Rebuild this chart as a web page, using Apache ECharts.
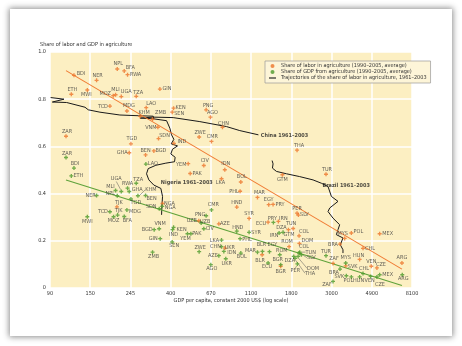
<!DOCTYPE html>
<html><head><meta charset="utf-8">
<script src="https://cdn.jsdelivr.net/npm/echarts@6/dist/echarts.min.js"></script>
<style>
html,body{margin:0;padding:0;background:#fff;}
#card{position:absolute;left:10px;top:9px;width:442px;height:327px;background:#fff;box-shadow:0 0 6px 1px rgba(0,0,0,0.45);}
#c{position:absolute;left:0;top:0;width:462px;height:346px;}
</style>
</head><body>
<div id="card"></div>
<div id="c"></div>
<script>
// ---- axis ticks ----
const xTickLabels = ['90','150','245','400','670','1100','1800','3000','4900','8100']; // GDP per capita at ln = 4.5 ... 9.0
const yTickLabels = ['0','0.2','0.4','0.6','0.8','1.0'];

// ---- Share of labor in agriculture (x = ln GDP per capita) ----
const laborCodes = ['BDI','NER','NPL','BFA','RWA','ETH','MWI','MOZ','MLI','UGA','TZA','GIN','TCD','MDG','LAO','KHM','ZMB','VNM','SDN','IND','TGD','GHA','BEN','BGD','KEN','SEN','PNG','AGO','CHN','ZWE','CMR','THA','YEM','CIV','PAK','IDN','LKA','BOL','PHL','GTM','TUR','MAR','EGY','PRY','NGA','TJK','HND','SYR','UZB','AZE','ECU','IRN','TUN','DZA','PER','SLV','COL','DOM','ROM','BLR','BGR','UKR','MYS','POL','MEX','BRA','CHL','HUN','ZAF','SVK','VEN','CZE','ARG','ZAR'];
const laborLnGdp = [4.798,5.079,5.336,5.423,5.464,4.765,4.964,5.286,5.315,5.386,5.572,5.866,5.245,5.456,5.696,5.620,5.775,5.841,5.849,6.040,5.506,5.485,5.688,5.791,6.036,6.019,6.441,6.495,6.644,6.354,6.507,7.571,6.218,6.412,6.243,6.673,6.632,6.872,6.863,7.389,7.931,7.079,7.219,7.273,5.899,5.332,6.822,6.975,6.350,6.599,7.211,7.339,7.522,7.464,7.571,7.588,7.596,7.600,7.472,7.137,7.368,6.673,8.163,8.246,8.598,8.105,8.391,8.349,8.018,8.176,8.494,8.564,8.875,4.699];
const laborShare = [0.901,0.880,0.928,0.920,0.904,0.821,0.839,0.815,0.819,0.811,0.812,0.843,0.771,0.750,0.764,0.727,0.715,0.681,0.633,0.613,0.611,0.573,0.564,0.581,0.762,0.745,0.755,0.724,0.681,0.640,0.621,0.584,0.527,0.519,0.485,0.501,0.463,0.449,0.410,0.480,0.482,0.384,0.353,0.354,0.358,0.344,0.343,0.295,0.285,0.272,0.279,0.282,0.252,0.247,0.317,0.309,0.221,0.189,0.175,0.141,0.092,0.169,0.210,0.233,0.230,0.186,0.168,0.121,0.104,0.094,0.092,0.085,0.106,0.643];

// ---- Share of GDP from agriculture ----
const gdpCodes = ['ZAR','BDI','ETH','NER','MWI','UGA','MLI','NPL','RWA','TZA','GHA','KHM','BEN','LAO','TJK','TGD','SDN','NGA','TCD','MDG','MOZ','BFA','VNM','BGD','GIN','ZMB','KEN','IND','SEN','YEM','PAK','PNG','UZB','CIV','CMR','AZE','HND','SYR','LKA','PHL','ZWE','CHN','IDN','UKR','BOL','AGO','MAR','BLR','EGY','ECU','ROM','BGR','DZA','PER','THA','DOM','COL','TUN','SLV','IRN','GTM','PRY','TUR','BRA','ZAF','MYS','SVK','POL','HUN','CHL','VEN','CZE','MEX','ARG'];
const gdpLnGdp = [4.699,4.798,4.765,5.079,4.964,5.386,5.315,5.336,5.464,5.572,5.485,5.593,5.688,5.692,5.340,5.506,5.858,5.895,5.245,5.456,5.290,5.423,5.857,5.795,5.870,5.775,6.036,6.023,6.019,6.209,6.251,6.441,6.379,6.412,6.507,6.599,6.822,6.975,6.632,6.863,6.354,6.632,6.661,6.685,6.872,6.499,7.079,7.141,7.228,7.211,7.356,7.368,7.530,7.575,7.546,7.584,7.596,7.604,7.625,7.348,7.397,7.277,7.931,8.105,8.018,8.176,8.184,8.246,8.349,8.391,8.486,8.564,8.598,8.879];
const gdpShare = [0.553,0.508,0.475,0.392,0.302,0.409,0.413,0.391,0.423,0.444,0.409,0.391,0.392,0.525,0.309,0.377,0.336,0.346,0.323,0.331,0.302,0.303,0.251,0.247,0.209,0.152,0.257,0.247,0.195,0.230,0.230,0.306,0.275,0.251,0.331,0.137,0.241,0.236,0.203,0.209,0.154,0.175,0.155,0.124,0.148,0.099,0.152,0.155,0.154,0.106,0.141,0.099,0.134,0.102,0.126,0.134,0.148,0.152,0.141,0.233,0.236,0.278,0.137,0.080,0.028,0.106,0.052,0.047,0.047,0.061,0.049,0.047,0.056,0.056];

// ---- Fitted lines (endpoints) ----
const laborFitLn = [4.699, 8.875];
const laborFitShare = [0.921, 0.080];
const gdpFitLn = [4.699, 8.875];
const gdpFitShare = [0.458, 0.011];

// ---- Trajectories of labor share, 1961-2003 ----
const chinaLn = [4.508,4.674,4.529,4.707,4.935,4.976,5.121,5.369,5.600,5.783,5.790,5.620,5.783,6.031,6.363,6.694,6.859,7.091];
const chinaShare = [0.807,0.800,0.788,0.786,0.766,0.755,0.745,0.733,0.730,0.728,0.717,0.720,0.724,0.722,0.705,0.684,0.667,0.649];
const nigeriaLn = [5.783,5.949,5.990,6.011,6.040,6.007,6.085,6.023,6.002,6.056,6.048,5.940,5.816,5.721,5.700,5.729,5.791,5.878,5.899,5.891,5.887];
const nigeriaShare = [0.717,0.709,0.677,0.649,0.630,0.611,0.602,0.588,0.568,0.554,0.535,0.529,0.520,0.506,0.484,0.458,0.436,0.422,0.388,0.346,0.310];
const brazilLn = [7.261,7.273,7.265,7.315,7.439,7.604,7.770,7.873,7.956,7.998,8.080,7.977,7.956,8.018,8.101,8.080,8.060,8.142,8.109,8.142,8.142];
const brazilShare = [0.540,0.526,0.508,0.494,0.484,0.472,0.458,0.444,0.430,0.388,0.367,0.339,0.324,0.296,0.268,0.247,0.226,0.212,0.183,0.162,0.148];
const trajNames = ['China 1961–2003','Nigeria 1961–2003','Brazil 1961–2003'];
const trajLabelLn = [7.12, 5.878, 7.886];
const trajLabelShare = [0.647, 0.447, 0.433];

// ---- label placement (layout only) ----
const laborOff = {BDI:[7,-2],NER:[1,-5],NPL:[1,-5],BFA:[6,-3],RWA:[8,0],ETH:[1,-5],MWI:[-1,5],MOZ:[-8,-2],MLI:[0,-5],UGA:[5,-5],TZA:[2,-4],GIN:[7,0],TCD:[-7,1],MDG:[2,-5],LAO:[5,-4],KHM:[4,-4],ZMB:[8,-7],VNM:[-7,0],SDN:[6,-3],IND:[8,-2],TGD:[1,-5],GHA:[-7,0],BEN:[0,-4],BGD:[7,0],KEN:[7,-1],SEN:[7,1],PNG:[2,-4],AGO:[2,-5],CHN:[1,-4],ZWE:[1,-4],CMR:[1,-5],THA:[2,-5],YEM:[-7,1],CIV:[1,-5],PAK:[7,0],IDN:[1,-6],LKA:[-1,4],BOL:[1,-5],PHL:[-6,0],GTM:[0,5],TUR:[1,-5],MAR:[2,-5],EGY:[0,-5],PRY:[7,0],NGA:[7,0],TJK:[2,-4],HND:[0,-4],SYR:[0,-5],UZB:[-7,0],AZE:[6,0],ECU:[-7,1],IRN:[5,-3],TUN:[-2,-5],DZA:[-7,-2],PER:[0,-5],SLV:[6,0],COL:[5,-4],DOM:[8,-3],ROM:[-2,-5],BLR:[-2,6],BGR:[0,5],UKR:[5,-1],MYS:[-2,-5],POL:[7,-1],MEX:[8,0],BRA:[-7,0],CHL:[7,0],HUN:[-1,-4],ZAF:[1,-5],SVK:[7,1],VEN:[0,-5],CZE:[4,-3],ARG:[0,-5],ZAR:[1,-5]};
const gdpOff = {ZAR:[1,-4],BDI:[1,-5],ETH:[7,0],NER:[-6,0],MWI:[0,5],UGA:[-5,-13],MLI:[-5,-4],NPL:[-7,-2],RWA:[0,-5],TZA:[2,-4],GHA:[8,-2],KHM:[13,-6],BEN:[6,3],LAO:[7,-1],TJK:[1,-4],TGD:[5,4],SDN:[-8,-2],NGA:[8,1],TCD:[-7,0],MDG:[8,2],MOZ:[0,4],BFA:[3,4],VNM:[1,-5],BGD:[-7,0],GIN:[-7,0],ZMB:[1,4],KEN:[8,2],IND:[1,5],SEN:[2,4],YEM:[-2,5],PAK:[6,0],PNG:[-6,-1],UZB:[4,-2],CIV:[6,0],CMR:[2,-5],AZE:[-6,0],HND:[1,-4],SYR:[7,0],LKA:[-7,0],PHL:[7,1],ZWE:[1,-4],CHN:[-6,0],IDN:[8,1],UKR:[1,5],BOL:[1,4],AGO:[1,4],MAR:[-7,-2],BLR:[-1,-7],EGY:[3,-7],ECU:[-1,4],ROM:[2,-4],BGR:[-3,-5],DZA:[-4,4],PER:[-2,7],THA:[15,15],DOM:[15,12],COL:[5,-6],TUN:[11,0],SLV:[10,3],IRN:[-5,3],GTM:[6,2],PRY:[-1,-4],TUR:[0,-4],BRA:[-6,3],ZAF:[-6,3],MYS:[0,-5],SVK:[-7,1],POL:[-3,4],HUN:[-1,4],CHL:[1,-5],VEN:[-1,4],CZE:[3,8],MEX:[8,0],ARG:[1,4]};
const gdpLeader = ['UGA','KHM','THA','DOM','TUN','SLV','PER'];

const F = "'Liberation Sans Narrow','Arial Narrow','DejaVu Sans Condensed',sans-serif";
const ORANGE = '#ec742a', GREEN = '#4c9a2a';
const NAME_L = 'Share of labor in agriculture (1990–2005, average)';
const NAME_G = 'Share of GDP from agriculture (1990–2005, average)';
const NAME_T = 'Trajectories of the share of labor in agriculture, 1961–2003';

const zip = (a, b) => a.map((v, i) => [v, b[i]]);
const plus = 'path://M1,0H2V1H3V2H2V3H1V2H0V1H1Z';

function scatter(name, codes, xs, ys, color, off, leaders) {
  return {
    name, type: 'scatter', z: 5,
    symbol: plus, symbolSize: 4,
    itemStyle: {color},
    data: codes.map((c, i) => {
      const d = {value: [xs[i], ys[i]], name: c};
      if (leaders && leaders.indexOf(c) >= 0) d.labelLine = {show: true};
      return d;
    }),
    label: {show: true, position: 'inside', formatter: p => p.name, fontFamily: F, fontSize: 5.5, color: '#3a3a3a'},
    labelLine: {show: false, lineStyle: {color: '#555', width: 0.5}},
    labelLayout: p => { const o = off[codes[p.dataIndex]] || [6, 0]; return {dx: o[0], dy: o[1]}; },
    emphasis: {disabled: true}
  };
}

const traj = [[chinaLn, chinaShare], [nigeriaLn, nigeriaShare], [brazilLn, brazilShare]].map(t => ({
  name: NAME_T, type: 'line', z: 3, showSymbol: false, symbol: 'none',
  lineStyle: {color: '#1a1a1a', width: 1}, itemStyle: {color: '#1a1a1a'},
  data: zip(t[0], t[1]), emphasis: {disabled: true}
}));

const chart = echarts.init(document.getElementById('c'), null, {renderer: 'canvas'});
chart.setOption({
  animation: false,
  backgroundColor: 'transparent',
  grid: {left: 50, right: 50, top: 52, bottom: 58, show: true, backgroundColor: '#fcefc2', borderWidth: 0},
  xAxis: {
    type: 'value', min: 4.5, max: 9, interval: 0.5,
    axisLine: {show: false}, axisTick: {show: false},
    splitLine: {show: true, lineStyle: {color: '#ffffff', width: 1.5}},
    axisLabel: {fontFamily: F, fontSize: 5.5, color: '#333', margin: 3,
      formatter: v => xTickLabels[Math.round((v - 4.5) / 0.5)]}
  },
  yAxis: {
    type: 'value', min: 0, max: 1, interval: 0.2,
    axisLine: {show: false}, axisTick: {show: false},
    splitLine: {show: true, lineStyle: {color: '#ffffff', width: 1.5}},
    axisLabel: {fontFamily: F, fontSize: 5.5, color: '#333', margin: 4,
      formatter: v => yTickLabels[Math.round(v / 0.2)]}
  },
  legend: {
    orient: 'vertical', left: 265, top: 61, padding: [2, 4, 2, 4], itemGap: 0,
    itemWidth: 7, itemHeight: 4, selectedMode: false,
    backgroundColor: '#fdf5d8', borderColor: '#9a9a9a', borderWidth: 0.7,
    textStyle: {fontFamily: F, fontSize: 5.5, color: '#333', lineHeight: 6},
    data: [
      {name: NAME_L, icon: 'circle', itemStyle: {color: ORANGE}},
      {name: NAME_G, icon: 'circle', itemStyle: {color: GREEN}},
      {name: NAME_T, icon: 'path://M0,0H10V1.6H0Z', itemStyle: {color: '#1a1a1a'}}
    ]
  },
  graphic: [
    {type: 'text', left: 40, top: 42, style: {text: 'Share of labor and GDP in agriculture', font: '5.5px ' + F, fill: '#333'}},
    {type: 'text', left: 'center', top: 298, style: {text: 'GDP per capita, constant 2000 US$ (log scale)', font: '5.5px ' + F, fill: '#333'}}
  ],
  series: [
    ...traj,
    {name: 'Labor fit', type: 'line', z: 4, showSymbol: false, symbol: 'none', lineStyle: {color: '#f07c35', width: 1.1}, data: zip(laborFitLn, laborFitShare), emphasis: {disabled: true}},
    {name: 'GDP fit', type: 'line', z: 4, showSymbol: false, symbol: 'none', lineStyle: {color: '#5ea23a', width: 1.1}, data: zip(gdpFitLn, gdpFitShare), emphasis: {disabled: true}},
    scatter(NAME_L, laborCodes, laborLnGdp, laborShare, ORANGE, laborOff, null),
    scatter(NAME_G, gdpCodes, gdpLnGdp, gdpShare, GREEN, gdpOff, gdpLeader),
    {
      name: 'Trajectory labels', type: 'scatter', z: 6, symbolSize: 0,
      data: trajNames.map((n, i) => ({name: n, value: [trajLabelLn[i], trajLabelShare[i]]})),
      label: {show: true, position: 'right', distance: 0, formatter: p => p.name, fontFamily: F, fontSize: 5.5, fontWeight: 'bold', color: '#1a1a1a'},
      emphasis: {disabled: true}
    }
  ]
});
</script>
</body></html>
